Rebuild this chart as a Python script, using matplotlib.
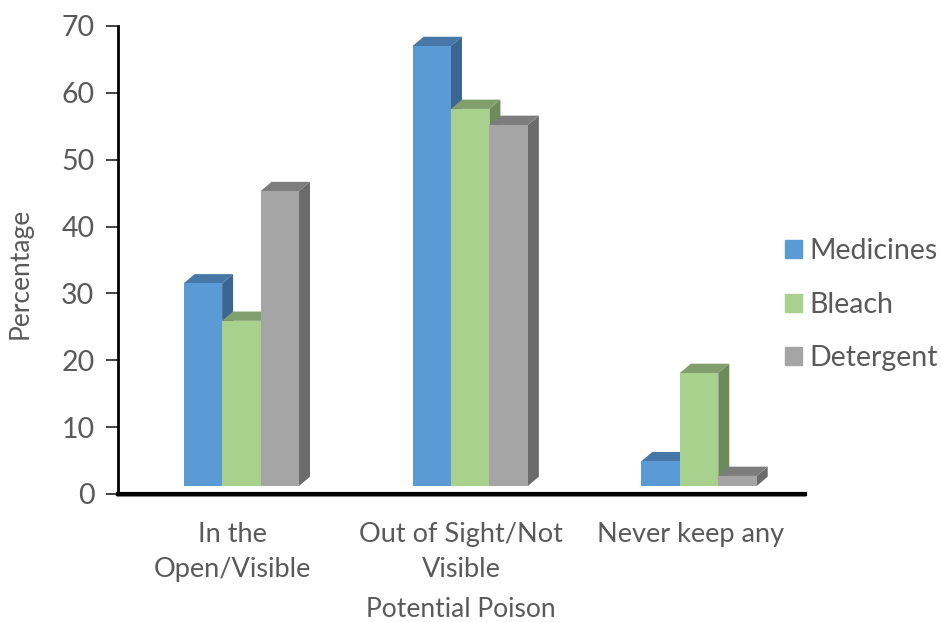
import matplotlib.pyplot as plt
import numpy as np

# datos
categorias = ["In the\nOpen/Visible", "Out of Sight/Not\nVisible", "Never keep any"]
series = ["Medicines", "Bleach", "Detergent"]
medicines = [31.5, 67.0, 4.9]
bleach = [25.9, 57.6, 18.1]
detergent = [45.3, 55.2, 2.7]
yticks = [0, 10, 20, 30, 40, 50, 60, 70]

valores = [medicines, bleach, detergent]
# colores: frente, tapa, lado
colores = [("#5B9BD5", "#4677A6", "#3B6691"),
           ("#A9D18E", "#819F6C", "#6C8A5A"),
           ("#A5A5A5", "#7D7D7D", "#6B6B6B")]

plt.rcParams["font.family"] = ["Lato", "DejaVu Sans"]
texto = "#595959"

fig = plt.figure(figsize=(9.41, 6.22), dpi=100)
ax = fig.add_axes([0.1254, 0.2058, 0.7296, 0.7524])

ancho = 0.168
dx = 0.048   # profundidad en x
dy = 1.39    # profundidad en y
base = 1.2   # piso del 3D
desp = 0.039

for i in range(len(categorias)):
    for j, vals in enumerate(valores):
        v = vals[i]
        x0 = i + 0.5 + desp + (j - 1) * ancho - ancho / 2
        x1 = x0 + ancho
        front, top, side = colores[j]
        z = 3 + j
        ax.fill([x1, x1 + dx, x1 + dx, x1], [base, base + dy, v + dy, v],
                color=side, lw=0, zorder=z)
        ax.fill([x0, x0 + dx, x1 + dx, x1], [v, v + dy, v + dy, v],
                color=top, lw=0, zorder=z)
        ax.bar(x0, v - base, width=ancho, bottom=base, align="edge",
               color=front, lw=0, zorder=z)

ax.set_xlim(0, 3)
ax.set_ylim(0, 70)
ax.set_yticks(yticks)
ax.set_xticks([0.5, 1.5, 2.5])
ax.set_xticklabels(categorias, fontsize=19.5, color=texto, linespacing=1.5)
ax.tick_params(axis="y", labelsize=20.5, labelcolor=texto, length=9, width=1.2,
               color="#222222", pad=8)
ax.tick_params(axis="x", length=0, pad=20)

for s in ["top", "right"]:
    ax.spines[s].set_visible(False)
ax.spines["left"].set_linewidth(2)
ax.spines["left"].set_color("black")
ax.spines["bottom"].set_linewidth(3)
ax.spines["bottom"].set_color("black")
ax.plot([0, 3], [-0.35, -0.35], color="#8a8a8a", lw=1.5, clip_on=False, zorder=1)

ax.set_ylabel("Percentage", fontsize=19, color=texto)
ax.yaxis.set_label_coords(-0.124, 0.472)
ax.set_xlabel("Potential Poison", fontsize=19, color=texto, labelpad=11)

handles = [plt.Rectangle((0, 0), 1, 1, color=c[0]) for c in colores]
fig.legend(handles, series, loc="center left", bbox_to_anchor=(0.834, 0.51),
           frameon=False, fontsize=20.5, labelcolor=texto, handlelength=0.6,
           handleheight=0.6, handletextpad=0.25, labelspacing=0.97,
           borderaxespad=0, borderpad=0)

fig.savefig("out.png", dpi=100)
